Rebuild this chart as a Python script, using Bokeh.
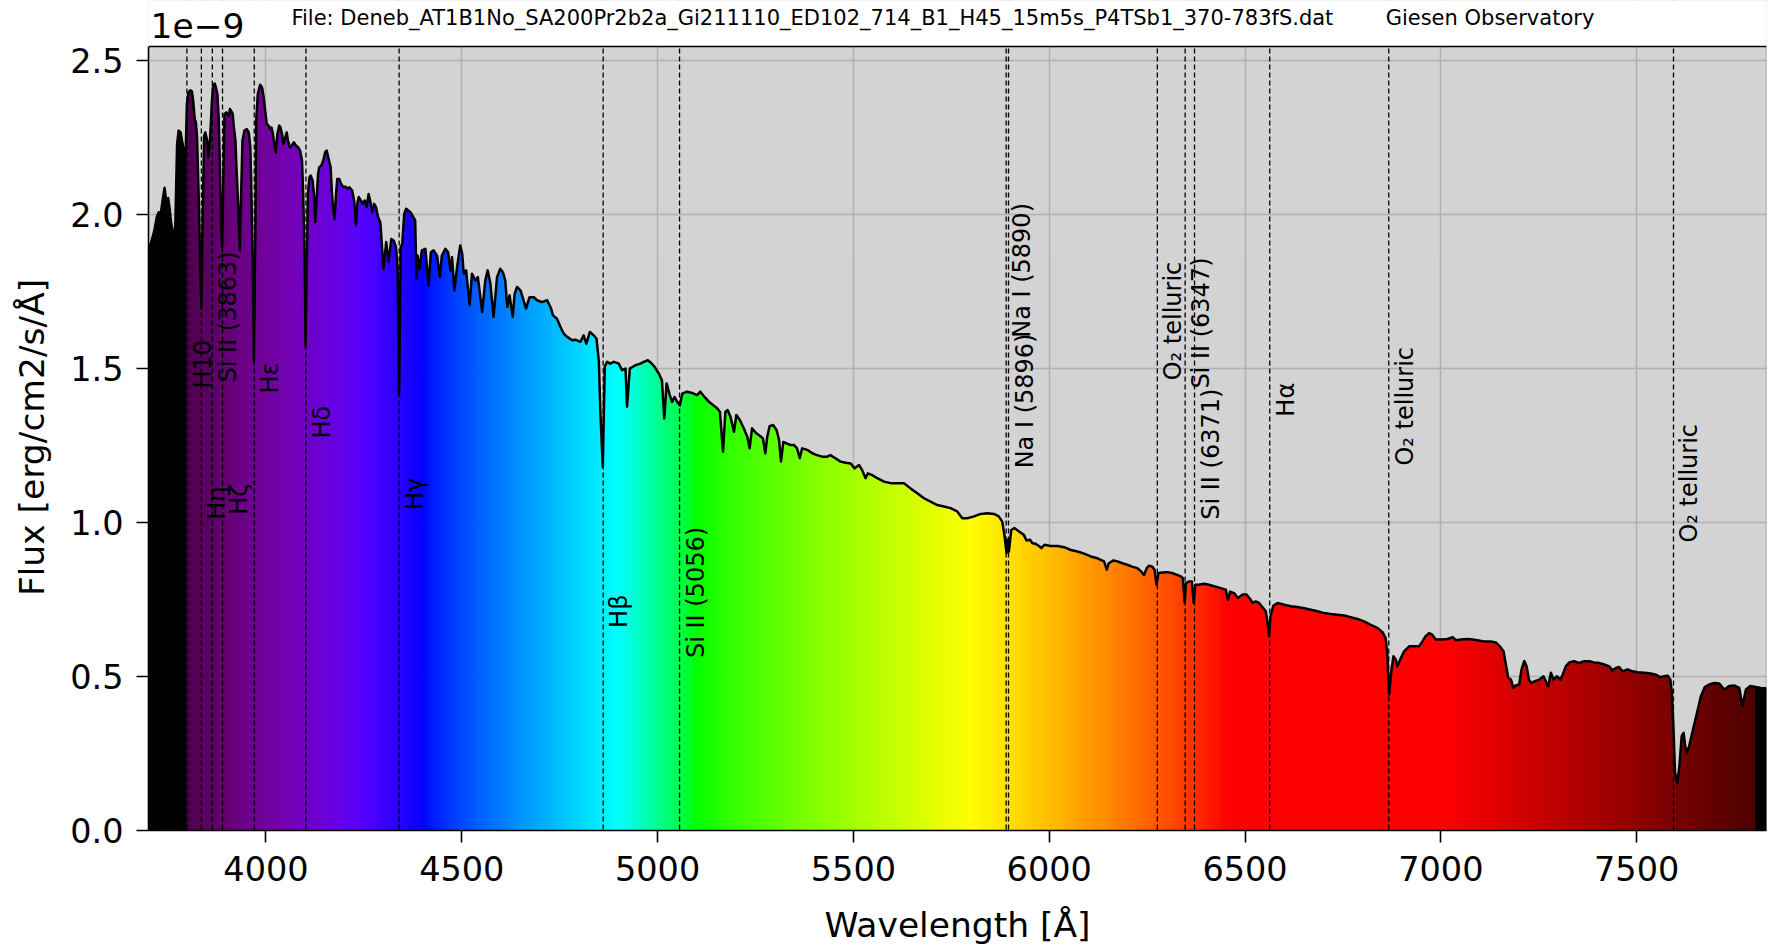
import math
from bokeh.plotting import figure
from bokeh.models import (Span, Label, FixedTicker, PrintfTickFormatter, Range1d,
                          ColumnDataSource, BoxAnnotation)
from bokeh.embed import file_html
from bokeh.resources import INLINE
from bokeh.core.properties import value

# ---------------- data ----------------
# wavelength in Angstrom, flux in units of 1e-9 erg/cm2/s/A
wavelength = [
    3700, 3707, 3715, 3721, 3726, 3731, 3736, 3741, 3745, 3750, 3754, 3758, 3764, 3768, 3773, 3777,
    3782, 3787, 3792, 3795, 3798, 3802, 3807, 3811, 3814, 3818, 3821, 3824, 3828, 3832, 3835, 3838,
    3842, 3845, 3850, 3853, 3857, 3862, 3865, 3869, 3872, 3876, 3879, 3882, 3886, 3888, 3892, 3894,
    3899, 3905, 3908, 3911, 3915, 3918, 3922, 3925, 3930, 3933, 3937, 3940, 3945, 3951, 3956, 3960,
    3962, 3966, 3969, 3973, 3975, 3979, 3985, 3990, 3994, 3998, 4002, 4007, 4010, 4014, 4017, 4020,
    4025, 4029, 4034, 4037, 4041, 4044, 4048, 4053, 4056, 4061, 4066, 4071, 4077, 4082, 4087, 4092,
    4095, 4099, 4101, 4105, 4107, 4111, 4114, 4119, 4123, 4126, 4129, 4133, 4136, 4141, 4146, 4151,
    4155, 4158, 4162, 4165, 4168, 4172, 4175, 4179, 4182, 4187, 4192, 4197, 4203, 4208, 4213, 4220,
    4225, 4230, 4233, 4237, 4242, 4247, 4252, 4257, 4262, 4266, 4271, 4276, 4281, 4286, 4292, 4300,
    4307, 4313, 4320, 4326, 4332, 4336, 4340, 4344, 4348, 4353, 4358, 4369, 4381, 4384, 4387, 4392,
    4398, 4407, 4415, 4421, 4428, 4437, 4444, 4449, 4458, 4465, 4471, 4475, 4481, 4488, 4496, 4501,
    4505, 4511, 4520, 4526, 4535, 4541, 4552, 4560, 4566, 4573, 4581, 4590, 4598, 4605, 4611, 4616,
    4622, 4630, 4635, 4641, 4650, 4664, 4673, 4684, 4692, 4705, 4718, 4728, 4733, 4743, 4752, 4760,
    4769, 4782, 4790, 4803, 4811, 4818, 4827, 4837, 4844, 4850, 4854, 4860, 4865, 4871, 4879, 4888,
    4901, 4909, 4918, 4922, 4929, 4943, 4956, 4965, 4975, 4983, 4992, 5003, 5011, 5017, 5023, 5031,
    5037, 5043, 5050, 5057, 5063, 5075, 5088, 5101, 5109, 5120, 5131, 5142, 5152, 5159, 5167, 5173,
    5179, 5186, 5195, 5201, 5210, 5220, 5229, 5235, 5241, 5252, 5264, 5269, 5275, 5280, 5286, 5295,
    5304, 5310, 5315, 5321, 5329, 5339, 5348, 5356, 5363, 5369, 5382, 5395, 5407, 5420, 5433, 5441,
    5454, 5467, 5480, 5493, 5503, 5514, 5522, 5531, 5537, 5548, 5561, 5578, 5595, 5612, 5629, 5646,
    5663, 5680, 5697, 5714, 5731, 5748, 5765, 5778, 5791, 5808, 5825, 5842, 5859, 5871, 5880, 5886,
    5891, 5894, 5897, 5903, 5911, 5923, 5935, 5942, 5951, 5957, 5965, 5974, 5980, 5988, 6003, 6021,
    6038, 6055, 6072, 6089, 6106, 6123, 6140, 6147, 6152, 6164, 6174, 6187, 6199, 6212, 6225, 6235,
    6242, 6249, 6255, 6263, 6269, 6274, 6279, 6289, 6301, 6314, 6327, 6336, 6341, 6346, 6349, 6357,
    6364, 6369, 6373, 6382, 6395, 6408, 6421, 6438, 6451, 6456, 6462, 6472, 6482, 6493, 6504, 6513,
    6519, 6527, 6536, 6544, 6553, 6557, 6561, 6565, 6572, 6583, 6600, 6617, 6634, 6651, 6668, 6685,
    6702, 6719, 6736, 6753, 6770, 6787, 6804, 6821, 6838, 6851, 6859, 6863, 6868, 6874, 6879, 6885,
    6889, 6898, 6906, 6919, 6932, 6944, 6953, 6961, 6970, 6978, 6987, 7000, 7017, 7030, 7038, 7051,
    7068, 7081, 7093, 7110, 7128, 7140, 7151, 7160, 7166, 7172, 7179, 7185, 7191, 7200, 7206, 7213,
    7219, 7225, 7231, 7240, 7251, 7262, 7268, 7274, 7281, 7288, 7296, 7305, 7311, 7319, 7328, 7340,
    7353, 7366, 7379, 7391, 7404, 7417, 7430, 7438, 7447, 7455, 7464, 7477, 7489, 7502, 7519, 7536,
    7549, 7560, 7570, 7579, 7586, 7590, 7594, 7598, 7604, 7609, 7615, 7620, 7624, 7628, 7634, 7643,
    7654, 7664, 7674, 7685, 7698, 7711, 7724, 7736, 7749, 7762, 7770, 7779, 7790, 7804, 7817, 7831,
]
flux_e9 = [
    1.889, 1.911, 1.948, 1.992, 2.008, 2.000, 2.046, 2.087, 2.046, 2.054, 2.019, 1.970, 1.938, 1.932, 2.229, 2.273,
    2.267, 2.229, 2.197, 2.200, 2.360, 2.397, 2.404, 2.400, 2.370, 2.310, 2.300, 2.251, 2.067, 1.851, 1.695, 1.959,
    2.256, 2.267, 2.240, 2.186, 2.240, 2.370, 2.418, 2.426, 2.413, 2.391, 2.321, 2.175, 1.938, 1.894, 2.175, 2.327,
    2.332, 2.321, 2.343, 2.337, 2.327, 2.283, 2.240, 2.143, 2.003, 1.884, 2.089, 2.240, 2.273, 2.278, 2.267, 2.219,
    2.121, 1.851, 1.522, 1.959, 2.305, 2.391, 2.422, 2.413, 2.381, 2.337, 2.294, 2.289, 2.278, 2.283, 2.267, 2.240,
    2.202, 2.262, 2.289, 2.283, 2.262, 2.229, 2.246, 2.267, 2.240, 2.219, 2.224, 2.235, 2.224, 2.219, 2.208, 2.175,
    2.067, 1.830, 1.570, 1.894, 2.067, 2.121, 2.127, 2.111, 2.057, 1.976, 2.046, 2.132, 2.154, 2.159, 2.175, 2.202,
    2.208, 2.192, 2.170, 2.154, 2.078, 2.013, 1.986, 2.067, 2.116, 2.116, 2.100, 2.089, 2.091, 2.084, 2.089, 2.078,
    2.046, 1.965, 2.035, 2.057, 2.046, 2.035, 2.046, 2.024, 2.067, 2.046, 2.008, 2.035, 2.024, 1.992, 1.975, 1.824,
    1.911, 1.846, 1.921, 1.916, 1.894, 1.830, 1.419, 1.894, 1.905, 2.002, 2.019, 2.008, 1.981, 1.792, 1.867, 1.824,
    1.884, 1.889, 1.770, 1.878, 1.884, 1.867, 1.797, 1.867, 1.889, 1.878, 1.819, 1.862, 1.754, 1.830, 1.900, 1.873,
    1.808, 1.819, 1.706, 1.808, 1.786, 1.797, 1.684, 1.786, 1.819, 1.776, 1.668, 1.797, 1.824, 1.813, 1.786, 1.700,
    1.738, 1.668, 1.743, 1.765, 1.754, 1.695, 1.732, 1.732, 1.722, 1.716, 1.722, 1.695, 1.673, 1.662, 1.635, 1.614,
    1.603, 1.592, 1.594, 1.587, 1.608, 1.581, 1.619, 1.608, 1.597, 1.522, 1.354, 1.181, 1.506, 1.522, 1.516, 1.522,
    1.516, 1.495, 1.500, 1.376, 1.500, 1.511, 1.516, 1.522, 1.527, 1.519, 1.506, 1.484, 1.462, 1.338, 1.452, 1.414,
    1.392, 1.408, 1.392, 1.381, 1.419, 1.425, 1.421, 1.414, 1.425, 1.408, 1.392, 1.381, 1.371, 1.360, 1.230, 1.360,
    1.365, 1.344, 1.295, 1.349, 1.333, 1.306, 1.279, 1.241, 1.306, 1.290, 1.279, 1.273, 1.225, 1.279, 1.313, 1.317,
    1.300, 1.268, 1.198, 1.262, 1.257, 1.252, 1.252, 1.241, 1.209, 1.241, 1.236, 1.225, 1.219, 1.214, 1.214, 1.219,
    1.209, 1.198, 1.194, 1.192, 1.176, 1.187, 1.171, 1.144, 1.160, 1.154, 1.144, 1.133, 1.128, 1.128, 1.128, 1.111,
    1.095, 1.079, 1.068, 1.057, 1.052, 1.047, 1.036, 1.014, 1.014, 1.020, 1.028, 1.030, 1.028, 1.020, 1.003, 0.955,
    0.901, 0.944, 0.906, 0.976, 0.982, 0.971, 0.960, 0.942, 0.944, 0.933, 0.931, 0.924, 0.917, 0.928, 0.924, 0.924,
    0.920, 0.911, 0.906, 0.899, 0.890, 0.884, 0.874, 0.847, 0.868, 0.877, 0.874, 0.868, 0.863, 0.857, 0.852, 0.841,
    0.830, 0.852, 0.860, 0.857, 0.847, 0.798, 0.836, 0.838, 0.839, 0.836, 0.830, 0.825, 0.820, 0.739, 0.803, 0.809,
    0.809, 0.739, 0.798, 0.798, 0.801, 0.798, 0.793, 0.787, 0.782, 0.749, 0.776, 0.771, 0.755, 0.766, 0.766, 0.752,
    0.739, 0.744, 0.739, 0.726, 0.712, 0.679, 0.631, 0.695, 0.730, 0.739, 0.733, 0.728, 0.726, 0.722, 0.717, 0.712,
    0.706, 0.703, 0.701, 0.698, 0.693, 0.687, 0.679, 0.668, 0.658, 0.644, 0.625, 0.577, 0.442, 0.523, 0.566, 0.555,
    0.533, 0.560, 0.582, 0.598, 0.598, 0.598, 0.614, 0.631, 0.641, 0.636, 0.620, 0.620, 0.622, 0.628, 0.618, 0.620,
    0.622, 0.620, 0.618, 0.614, 0.614, 0.611, 0.598, 0.582, 0.539, 0.496, 0.490, 0.463, 0.471, 0.474, 0.523, 0.550,
    0.533, 0.490, 0.479, 0.485, 0.490, 0.501, 0.485, 0.468, 0.512, 0.490, 0.501, 0.490, 0.506, 0.533, 0.546, 0.550,
    0.544, 0.550, 0.550, 0.546, 0.544, 0.539, 0.533, 0.520, 0.528, 0.531, 0.517, 0.523, 0.517, 0.514, 0.512, 0.510,
    0.506, 0.498, 0.501, 0.503, 0.490, 0.447, 0.328, 0.188, 0.155, 0.209, 0.307, 0.317, 0.274, 0.251, 0.274, 0.323,
    0.382, 0.436, 0.466, 0.474, 0.479, 0.477, 0.458, 0.469, 0.471, 0.463, 0.404, 0.458, 0.469, 0.466, 0.463, 0.462,
]

line_wavelengths = [3798, 3835, 3863, 3889, 3970, 4102, 4340, 4861, 5056,
                    5890, 5896, 6276, 6347, 6371, 6563, 6867, 7594]
line_names = ["H10", "Hη", "Si II (3863)", "Hζ", "Hε", "Hδ", "Hγ", "Hβ", "Si II (5056)",
              "Na I (5890)", "Na I (5896)", "O₂ telluric", "Si II (6347)", "Si II (6371)",
              "Hα", "O₂ telluric", "O₂ telluric"]
label_heights = [1.435, 1.009, 1.455, 1.025, 1.419, 1.273, 1.041, 0.658, 0.560,
                 1.600, 1.176, 1.462, 1.435, 1.009, 1.344, 1.185, 0.935]

x_ticks = [4000, 4500, 5000, 5500, 6000, 6500, 7000, 7500]
y_ticks = [0.0, 0.5, 1.0, 1.5, 2.0, 2.5]

file_title = "File: Deneb_AT1B1No_SA200Pr2b2a_Gi211110_ED102_714_B1_H45_15m5s_P4TSb1_370-783fS.dat"
observatory = "Giesen Observatory"
x_label = "Wavelength [Å]"
y_label = "Flux [erg/cm2/s/Å]"
scale_label = "1e\u22129"

X_MIN, X_MAX = 3700, 7831.5
Y_TOP = 2.546                     # top of the axes box
Y_CANVAS_TOP = Y_TOP * 830 / 784  # frame reaches the canvas top; margin strip kept white


# ---------------- styling helpers ----------------
def wl_to_hex(w):
    nm = w / 10.0
    if nm < 380 or nm > 780:
        return "#000000"
    if nm < 440:
        r, g, b = (440 - nm) / 60.0, 0.0, 1.0
    elif nm < 490:
        r, g, b = 0.0, (nm - 440) / 50.0, 1.0
    elif nm < 510:
        r, g, b = 0.0, 1.0, (510 - nm) / 20.0
    elif nm < 580:
        r, g, b = (nm - 510) / 70.0, 1.0, 0.0
    elif nm < 645:
        r, g, b = 1.0, (645 - nm) / 65.0, 0.0
    else:
        r, g, b = 1.0, 0.0, 0.0
    if nm < 425:
        att = 0.3 + 0.7 * (nm - 380) / 45.0
    elif nm > 700:
        att = 0.3 + 0.7 * (780 - nm) / 80.0
    else:
        att = 1.0
    def ch(c):
        return int(round(255 * (c ** 0.8) * att)) if c > 0 else 0
    return "#%02x%02x%02x" % (ch(r), ch(g), ch(b))


FONT = "DejaVu Sans"
NBSP = "\u00a0"

p = figure(width=1770, height=949, x_range=Range1d(X_MIN, X_MAX), y_range=Range1d(0, Y_CANVAS_TOP),
           output_backend="svg", toolbar_location=None, title=None,
           min_border_left=148, min_border_right=4, min_border_top=0, min_border_bottom=119)

p.background_fill_color = "#d3d3d3"
p.border_fill_color = "white"
p.outline_line_color = None

for g in (p.xgrid, p.ygrid):
    g.grid_line_color = "#b0b0b0"
    g.grid_line_width = 1.5
p.xgrid.ticker = FixedTicker(ticks=x_ticks)
p.ygrid.ticker = FixedTicker(ticks=y_ticks)

p.xaxis.ticker = FixedTicker(ticks=x_ticks)
p.yaxis.ticker = FixedTicker(ticks=y_ticks)
p.yaxis.formatter = PrintfTickFormatter(format="%.1f")
p.yaxis.bounds = (0, Y_TOP)
for ax in (p.xaxis, p.yaxis):
    ax.major_label_text_font = FONT
    ax.major_label_text_font_size = "33.5px"
    ax.major_label_text_color = "black"
    ax.axis_label_text_font = FONT
    ax.axis_label_text_font_size = "34.5px"
    ax.axis_label_text_font_style = "normal"
    ax.axis_label_text_color = "black"
    ax.axis_line_color = "black"
    ax.axis_line_width = 1.6
    ax.major_tick_line_color = "black"
    ax.major_tick_line_width = 1.6
    ax.major_tick_out = 12
    ax.major_tick_in = 0
    ax.minor_tick_line_color = None
p.xaxis.axis_label = x_label
# trailing no-break spaces keep the label centred on the axes box, not on the taller frame
p.yaxis.axis_label = y_label + NBSP * 4
p.xaxis.major_label_standoff = 13
p.xaxis.axis_label_standoff = 21
p.yaxis.major_label_standoff = 13
p.yaxis.axis_label_standoff = 15

# coloured fill under the spectrum: one strip per pair of neighbouring samples
xs, ys, cols = [], [], []
for i in range(len(wavelength) - 1):
    x0, x1 = wavelength[i], wavelength[i + 1]
    xs.append([x0, x1, x1, x0])
    ys.append([0, 0, flux_e9[i + 1], flux_e9[i]])
    cols.append(wl_to_hex(0.5 * (x0 + x1)))
p.patches(xs=xs, ys=ys, fill_color=cols, line_color=cols, line_width=1)

p.line(wavelength, flux_e9, line_color="black", line_width=2.5, line_join="round")

for w in line_wavelengths:
    p.add_layout(Span(location=w, dimension="height", line_color="black",
                      line_width=1.3, line_dash="5 3"))

lab_src = ColumnDataSource(dict(x=line_wavelengths, y=label_heights, t=line_names))
p.text(x="x", y="y", text="t", source=lab_src, angle=math.pi / 2, text_align="left",
       text_baseline="top", text_font=value(FONT), text_font_size="24px",
       text_color="black", x_offset=2)

# white margin strip above the axes box, then the top and right edges of the box
p.add_layout(BoxAnnotation(left=X_MIN - 10, right=X_MAX + 10, bottom=Y_TOP, top=Y_CANVAS_TOP + 0.1,
                           fill_color="white", fill_alpha=1.0, line_color=None))
p.add_layout(Span(location=Y_TOP, dimension="width", line_color="black", line_width=1.6))
p.add_layout(BoxAnnotation(left=X_MAX, right=X_MAX, bottom=0, top=Y_TOP,
                           fill_alpha=0, line_color="black", line_width=1.6))

# texts in the top margin
p.add_layout(Label(x=X_MIN, y=2.614, x_offset=2, text=scale_label,
                   text_font=FONT, text_font_size="34.5px", text_color="black",
                   text_align="left", text_baseline="alphabetic"))
p.add_layout(Label(x=4065, y=2.637, text=file_title,
                   text_font=FONT, text_font_size="21px", text_color="black",
                   text_align="left", text_baseline="alphabetic"))
p.add_layout(Label(x=6859, y=2.637, text=observatory,
                   text_font=FONT, text_font_size="21px", text_color="black",
                   text_align="left", text_baseline="alphabetic"))

open("out.html", "w").write(file_html(p, INLINE))
